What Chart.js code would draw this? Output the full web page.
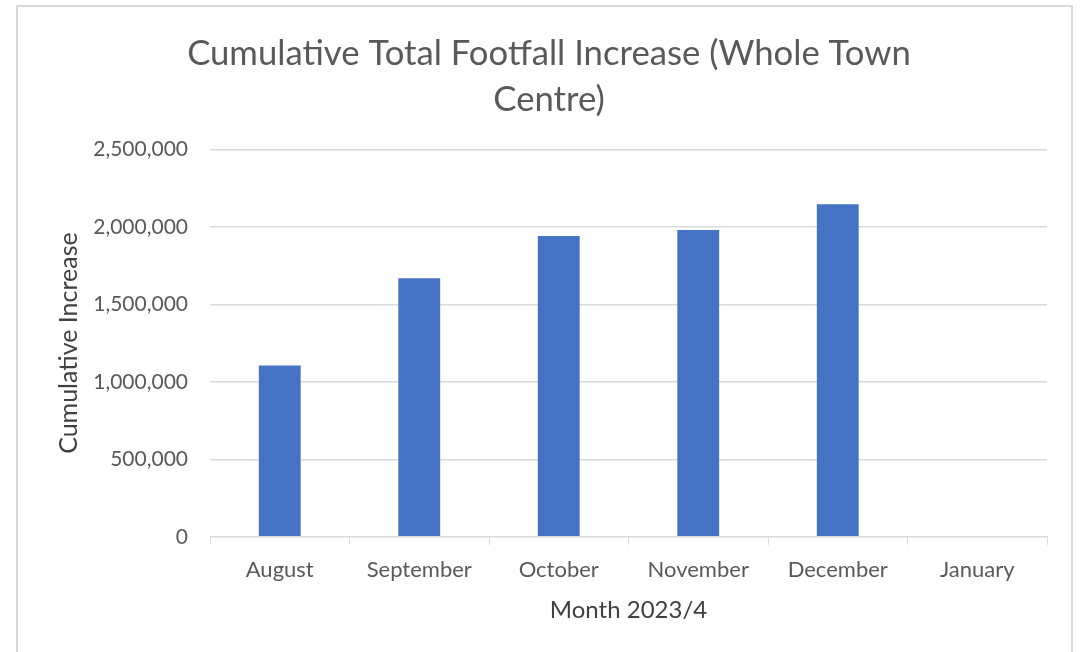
<!DOCTYPE html>
<html>
<head>
<meta charset="utf-8">
<script src="https://cdn.jsdelivr.net/npm/chart.js@4/dist/chart.umd.min.js"></script>
<style>
  html, body { margin: 0; padding: 0; background: #fff; }
  #wrap { position: relative; width: 1082px; height: 652px; overflow: hidden; }
  #frame {
    position: absolute; left: 16px; top: 5px; width: 1057px; height: 700px;
    border: 2px solid #d9d9d9; box-sizing: border-box;
  }
  canvas { position: absolute; left: 0; top: 0; }
</style>
</head>
<body>
<div id="wrap">
  <div id="frame"></div>
  <canvas id="chart" width="1082" height="652"></canvas>
</div>
<script>
// values
const months = ['August', 'September', 'October', 'November', 'December', 'January'];
const cumulativeIncrease = [1105000, 1668000, 1940000, 1979000, 2146000, 0];
const titleLines = ['Cumulative Total Footfall Increase (Whole Town', 'Centre)'];
const yAxisTitle = 'Cumulative Increase';
const xAxisTitle = 'Month 2023/4';

const FONT = 'Lato, "Open Sans", sans-serif';
const GREY = '#595959';
const GRID = '#d9d9d9';

new Chart(document.getElementById('chart'), {
  type: 'bar',
  data: {
    labels: months,
    datasets: [{
      data: cumulativeIncrease,
      backgroundColor: '#4472c4',
      barPercentage: 0.3,
      categoryPercentage: 1,
    }],
  },
  options: {
    responsive: false,
    animation: false,
    layout: { padding: { top: 31, left: 51, right: 35, bottom: 27 } },
    plugins: {
      legend: { display: false },
      tooltip: { enabled: false },
      title: {
        display: true,
        text: titleLines,
        color: GREY,
        font: { family: FONT, size: 34.7, weight: 'normal', lineHeight: 1.33 },
        padding: { top: 0, bottom: 26 },
      },
    },
    scales: {
      x: {
        grid: {
          offset: true,
          drawOnChartArea: false,
          drawTicks: true,
          tickLength: 8,
          color: GRID,
        },
        border: { color: GRID },
        ticks: { color: GREY, padding: 12, font: { family: FONT, size: 22 } },
        title: {
          display: true,
          text: xAxisTitle,
          color: '#404040',
          font: { family: FONT, size: 24 },
          padding: { top: 1, bottom: 0 },
        },
      },
      y: {
        min: 0,
        max: 2500000,
        // fixed axis width so the plot starts where the reference's does
        afterFit: (scale) => { scale.width = 159; },
        grid: { color: GRID, lineWidth: 1.5, drawTicks: false },
        border: { display: false },
        ticks: {
          stepSize: 500000,
          color: GREY,
          padding: 22,
          font: { family: FONT, size: 21 },
          callback: (v) => v.toLocaleString('en-US'),
        },
        title: {
          display: true,
          text: yAxisTitle,
          color: '#404040',
          font: { family: FONT, size: 25 },
          padding: { top: 3, bottom: 4 },
        },
      },
    },
  },
});
</script>
</body>
</html>
